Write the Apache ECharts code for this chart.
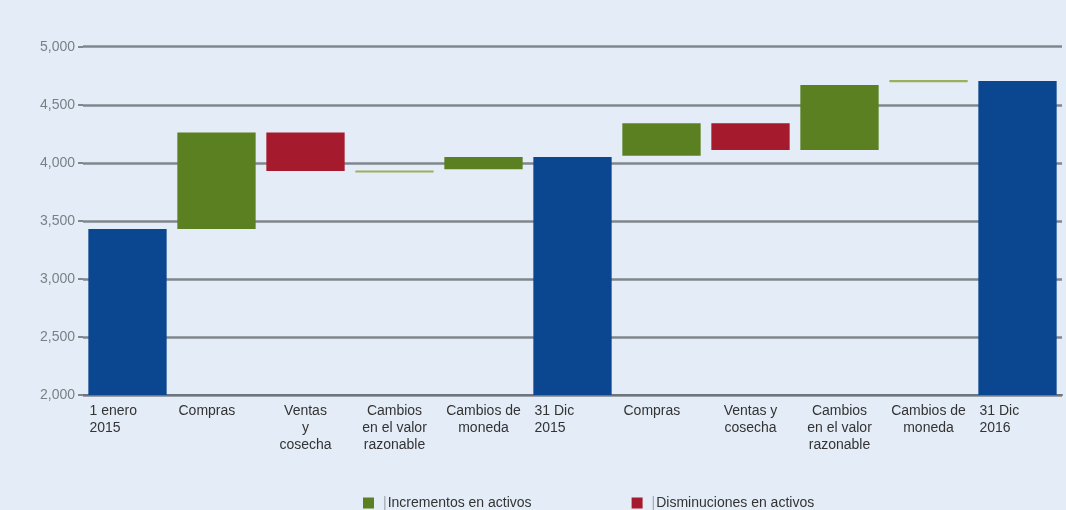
<!DOCTYPE html>
<html>
<head>
<meta charset="utf-8">
<script src="https://cdn.jsdelivr.net/npm/echarts@6/dist/echarts.min.js"></script>
<style>
  html, body { margin: 0; padding: 0; background: #e4edf7; }
  #container { width: 1066px; height: 510px; }
</style>
</head>
<body>
<div id="container"></div>
<script>
const categories = [
    '1 enero\n2015', 'Compras', 'Ventas\ny\ncosecha', 'Cambios\nen el valor\nrazonable', 'Cambios de\nmoneda',
    '31 Dic\n2015', 'Compras', 'Ventas y\ncosecha', 'Cambios\nen el valor\nrazonable', 'Cambios de\nmoneda', '31 Dic\n2016'
];
// invisible base under each floating step
const baseValues = [0, 3430, 3930, 3916, 3945, 0, 4060, 4110, 4110, 4694, 0];
const increments = ['-', 830, '-', 18, 105, '-', 280, '-', 560, 20, '-'];
const decreases = ['-', '-', 330, '-', '-', '-', '-', 230, '-', '-', '-'];
const totals = [3430, '-', '-', '-', '-', 4050, '-', '-', '-', '-', 4705];
const yTicks = [2000, 2500, 3000, 3500, 4000, 4500, 5000];

const leftLabels = [0, 1, 5, 6, 10];

const GREEN = '#5b8022';
const RED = '#a61a2e';
const BLUE = '#0b4690';

const myChart = echarts.init(document.getElementById('container'));

const option = {
    backgroundColor: '#e4edf7',
    textStyle: { fontFamily: 'Liberation Sans, Arial, sans-serif' },
    animation: false,
    grid: { left: 83, right: 4, top: 46.7, bottom: 115 },
    legend: {
        left: 358,
        top: 491,
        icon: 'rect',
        itemWidth: 11,
        itemHeight: 11,
        itemGap: 100,
        data: [
            { name: 'Incrementos en activos', itemStyle: { color: GREEN } },
            { name: 'Disminuciones en activos', itemStyle: { color: RED } }
        ],
        formatter: name => '{p||}' + name,
        textStyle: {
            color: '#333',
            fontSize: 14,
            rich: { p: { color: '#a0a6ad', fontSize: 14, padding: [0, 1, 0, 4] } }
        }
    },
    xAxis: {
        type: 'category',
        data: categories,
        axisLine: { lineStyle: { color: '#6f757d', width: 2 } },
        axisTick: { show: false },
        axisLabel: {
            interval: 0,
            color: '#333',
            fontSize: 14,
            lineHeight: 17,
            margin: 8,
            formatter: (value, idx) => {
                const tag = leftLabels.includes(idx) ? 'l' : 'c';
                return value.split('\n').map(s => '{' + tag + '|' + s + '}').join('\n');
            },
            rich: {
                l: { width: 76, align: 'left', fontSize: 14, lineHeight: 17, color: '#333' },
                c: { align: 'center', fontSize: 14, lineHeight: 17, color: '#333' }
            }
        }
    },
    yAxis: {
        type: 'value',
        min: 2000,
        max: 5000,
        interval: 500,
        axisLine: { show: false },
        axisTick: { show: true, length: 5, lineStyle: { color: '#80868e', width: 2 } },
        axisLabel: {
            color: '#7a7f86',
            fontSize: 14,
            margin: 8,
            formatter: v => yTicks.includes(v) ? v.toLocaleString('en-US') : ''
        },
        splitLine: { lineStyle: { color: '#80868e', width: 2.5 } }
    },
    series: [
        {
            name: 'base',
            type: 'bar',
            stack: 'w',
            barCategoryGap: '12%',
            silent: true,
            itemStyle: { color: 'transparent' },
            data: baseValues
        },
        {
            name: 'Incrementos en activos',
            type: 'bar',
            stack: 'w',
            itemStyle: {
                color: p => (p.value < 25 ? '#9bb05c' : GREEN)
            },
            data: increments
        },
        {
            name: 'Disminuciones en activos',
            type: 'bar',
            stack: 'w',
            itemStyle: { color: RED },
            data: decreases
        },
        {
            name: 'Total',
            type: 'bar',
            stack: 'w',
            itemStyle: { color: BLUE },
            data: totals
        }
    ]
};

myChart.setOption(option);
</script>
</body>
</html>
